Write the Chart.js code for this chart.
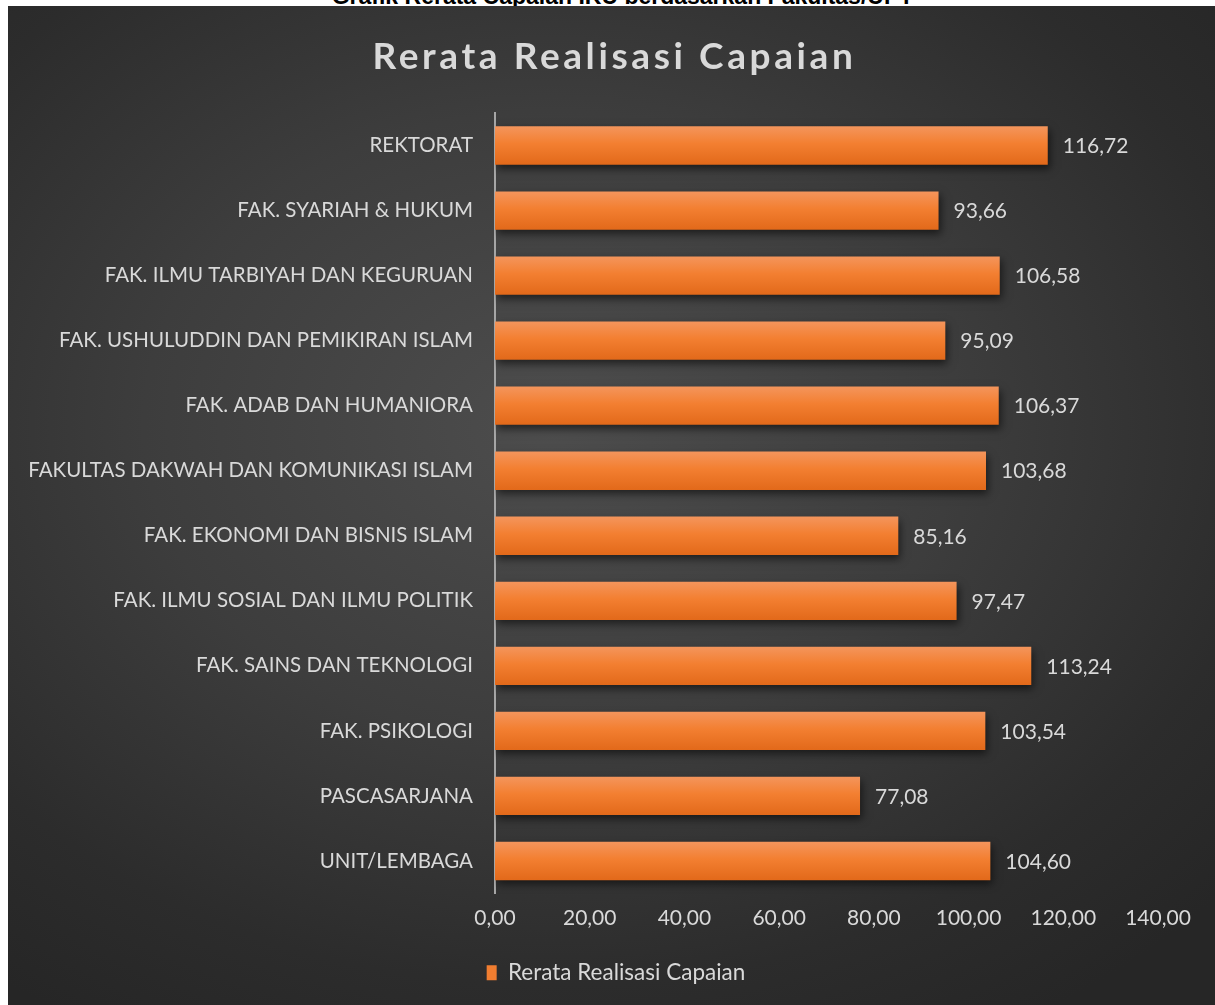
<!DOCTYPE html>
<html><head><meta charset="utf-8">
<script src="https://cdn.jsdelivr.net/npm/chart.js@4.4.1/dist/chart.umd.min.js"></script>
<style>
html,body{margin:0;padding:0;background:#fff;width:1215px;height:1005px;overflow:hidden}
#cap{position:absolute;left:0;top:0;width:1215px;height:6px;overflow:hidden}
#cap span{position:absolute;left:15px;width:1215px;text-align:center;top:-17px;font:bold 23px "Liberation Sans",Arial,sans-serif;color:#000;white-space:nowrap}
#wrap{position:absolute;left:8px;top:6px;width:1207px;height:999px;
background:radial-gradient(ellipse 75% 70% at 45% 42%, #4d4d4d 0%, #3d3d3d 45%, #2c2c2c 80%, #262626 100%)}
</style></head>
<body>
<div id="cap"><span>Grafik Rerata Capaian IKU berdasarkan Fakultas/UPT</span></div>
<div id="wrap"><canvas id="c" width="1207" height="999"></canvas></div>
<script>
const chartTitle = "Rerata Realisasi Capaian";
const seriesName = "Rerata Realisasi Capaian";
const categories = ["REKTORAT","FAK. SYARIAH & HUKUM","FAK. ILMU TARBIYAH DAN KEGURUAN","FAK. USHULUDDIN DAN PEMIKIRAN ISLAM","FAK. ADAB DAN HUMANIORA","FAKULTAS DAKWAH DAN KOMUNIKASI ISLAM","FAK. EKONOMI DAN BISNIS ISLAM","FAK. ILMU SOSIAL DAN ILMU POLITIK","FAK. SAINS DAN TEKNOLOGI","FAK. PSIKOLOGI","PASCASARJANA","UNIT/LEMBAGA"];
const values = [116.72,93.66,106.58,95.09,106.37,103.68,85.16,97.47,113.24,103.54,77.08,104.60];
const xTickValues = [0,20,40,60,80,100,120,140];

const FONT = "Lato, 'Open Sans', sans-serif";
const TXT = "#d9d9d9";
const fmt = v => v.toFixed(2).replace('.', ',');
const BAR_FRAC = 0.59;

const titlePlugin = {
  id: 'customTitle',
  afterDraw(chart){
    const ctx = chart.ctx;
    ctx.save();
    ctx.font = "bold 37px " + FONT;
    if ('letterSpacing' in ctx) ctx.letterSpacing = '3.6px';
    ctx.fillStyle = TXT;
    ctx.textAlign = 'center';
    ctx.textBaseline = 'middle';
    ctx.fillText(chartTitle, chart.width/2 + 3, 51);
    ctx.restore();
  }
};
const legendShift = {
  id: 'legendShift',
  afterLayout(chart){
    const L = chart.legend; if (!L) return;
    L.left += 33; L.right += 33;
  }
};
const shadowPlugin = {
  id: 'barShadow',
  beforeDatasetsDraw(chart){
    const ctx = chart.ctx; ctx.save();
    ctx.shadowColor = 'rgba(0,0,0,0.55)'; ctx.shadowBlur = 8; ctx.shadowOffsetX = 2; ctx.shadowOffsetY = 4;
  },
  afterDatasetsDraw(chart){ chart.ctx.restore(); }
};
const labelPlugin = {
  id: 'valueLabels',
  afterDatasetsDraw(chart){
    const ctx = chart.ctx; const meta = chart.getDatasetMeta(0);
    ctx.save();
    ctx.font = "21px " + FONT; ctx.fillStyle = TXT;
    ctx.textAlign = 'left'; ctx.textBaseline = 'middle';
    meta.data.forEach((bar, i) => {
      ctx.fillText(fmt(chart.data.datasets[0].data[i]), bar.x + 15, bar.y + 1);
    });
    ctx.restore();
  }
};

new Chart(document.getElementById('c'), {
  type: 'bar',
  data: {
    labels: categories,
    datasets: [{
      label: seriesName,
      data: values,
      barPercentage: BAR_FRAC,
      categoryPercentage: 1.0,
      backgroundColor(ctx){
        const chart = ctx.chart; const a = chart.chartArea;
        if (!a || !chart.scales.y) return '#f07c2c';
        const c = chart.scales.y.getPixelForValue(ctx.dataIndex);
        const h = (a.bottom - a.top) / categories.length * BAR_FRAC / 2;
        const g = chart.ctx.createLinearGradient(0, c - h, 0, c + h);
        g.addColorStop(0, '#f4955c'); g.addColorStop(0.45, '#f37f31'); g.addColorStop(1, '#e2691a');
        return g;
      },
      borderWidth: 0
    }]
  },
  options: {
    indexAxis: 'y',
    responsive: false,
    animation: false,
    layout: { padding: { top: 107, right: 57, left: 0, bottom: 11 } },
    plugins: {
      title: { display: false },
      tooltip: { enabled: false },
      legend: {
        position: 'bottom',
        labels: {
          color: TXT, font: { family: FONT, size: 22.5 }, boxWidth: 10, boxHeight: 15, padding: 10,
          generateLabels(){ return [{ text: seriesName, fillStyle: '#f07d30', strokeStyle: 'transparent', lineWidth: 0, fontColor: TXT, datasetIndex: 0 }]; }
        }
      }
    },
    scales: {
      y: {
        grid: { display: false, drawTicks: false },
        border: { display: true, color: '#a6a6a6', width: 2 },
        ticks: { color: TXT, font: { family: FONT, size: 20.5 }, padding: 22 },
        afterFit(s){ s.width = 487; }
      },
      x: {
        min: 0, max: 140,
        afterBuildTicks(s){ s.ticks = xTickValues.map(v => ({ value: v })); },
        grid: { display: false, drawTicks: false },
        border: { display: false },
        ticks: { color: TXT, font: { family: FONT, size: 21 }, padding: 12, callback: v => fmt(v), maxRotation: 0 },
        afterFit(s){ s.height = 58; }
      }
    }
  },
  plugins: [titlePlugin, legendShift, shadowPlugin, labelPlugin]
});
</script>
</body></html>
